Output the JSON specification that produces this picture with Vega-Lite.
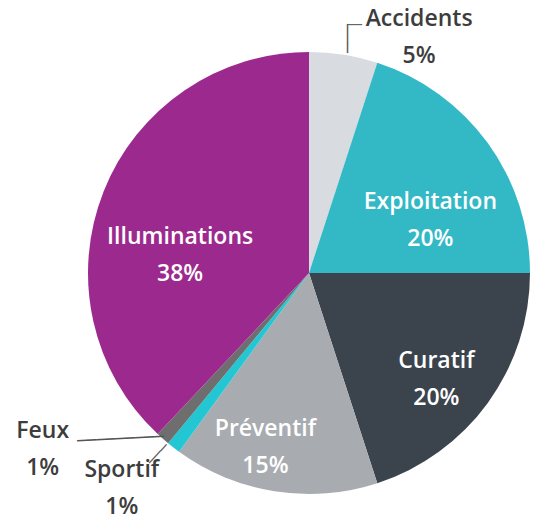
{
  "$schema": "https://vega.github.io/schema/vega-lite/v6.json",
  "width": 442,
  "height": 442,
  "autosize": {"type": "none"},
  "padding": {"left": 88, "top": 52, "right": 9, "bottom": 26},
  "background": "white",
  "config": {"view": {"stroke": null}},
  "data": {
    "values": [
      {"rank": 1, "name": "Accidents", "share": 0.05, "label": "Accidents\n5%"},
      {"rank": 2, "name": "Exploitation", "share": 0.20, "label": "Exploitation\n20%"},
      {"rank": 3, "name": "Curatif", "share": 0.20, "label": "Curatif\n20%"},
      {"rank": 4, "name": "Préventif", "share": 0.15, "label": "Préventif\n15%"},
      {"rank": 5, "name": "Sportif", "share": 0.01, "label": "Sportif\n1%"},
      {"rank": 6, "name": "Feux", "share": 0.01, "label": "Feux\n1%"},
      {"rank": 7, "name": "Illuminations", "share": 0.38, "label": "Illuminations\n38%"}
    ]
  },
  "encoding": {
    "theta": {"field": "share", "type": "quantitative", "stack": true},
    "order": {"field": "rank", "type": "quantitative"}
  },
  "layer": [
    {
      "mark": {"type": "arc", "radius": 221},
      "encoding": {
        "color": {
          "field": "name",
          "type": "nominal",
          "legend": null,
          "scale": {
            "domain": ["Accidents", "Exploitation", "Curatif", "Préventif", "Sportif", "Feux", "Illuminations"],
            "range": ["#d8dbdf", "#33b8c6", "#3b444d", "#a8acb1", "#22c7d3", "#6e6e6e", "#9c2a8e"]
          }
        }
      }
    },
    {
      "mark": {"type": "text", "radius": 150, "dx": 0, "dy": 17, "font": "Open Sans", "fontSize": 23, "fontWeight": 600, "fill": "white", "lineBreak": "\n", "lineHeight": 37, "align": "center", "baseline": "middle"},
      "encoding": {"text": {"condition": {"test": "datum.name === 'Exploitation'", "field": "label", "type": "nominal"}, "value": ""}}
    },
    {
      "mark": {"type": "text", "radius": 150, "dx": 6, "dy": 0, "font": "Open Sans", "fontSize": 23, "fontWeight": 600, "fill": "white", "lineBreak": "\n", "lineHeight": 37, "align": "center", "baseline": "middle"},
      "encoding": {"text": {"condition": {"test": "datum.name === 'Curatif'", "field": "label", "type": "nominal"}, "value": ""}}
    },
    {
      "mark": {"type": "text", "radius": 170, "dx": -17, "dy": -12, "font": "Open Sans", "fontSize": 23, "fontWeight": 600, "fill": "white", "lineBreak": "\n", "lineHeight": 37, "align": "center", "baseline": "middle"},
      "encoding": {"text": {"condition": {"test": "datum.name === 'Préventif'", "field": "label", "type": "nominal"}, "value": ""}}
    },
    {
      "mark": {"type": "text", "radius": 130, "dx": -8, "dy": 12, "font": "Open Sans", "fontSize": 23, "fontWeight": 600, "fill": "white", "lineBreak": "\n", "lineHeight": 37, "align": "center", "baseline": "middle"},
      "encoding": {"text": {"condition": {"test": "datum.name === 'Illuminations'", "field": "label", "type": "nominal"}, "value": ""}}
    },
    {
      "mark": {"type": "text", "radius": 250, "dx": 71, "dy": -7, "font": "Open Sans", "fontSize": 23, "fontWeight": 600, "fill": "#3d3d3d", "lineBreak": "\n", "lineHeight": 37, "align": "center", "baseline": "middle"},
      "encoding": {"text": {"condition": {"test": "datum.name === 'Accidents'", "field": "label", "type": "nominal"}, "value": ""}}
    },
    {
      "mark": {"type": "text", "radius": 250, "dx": -101, "dy": -30, "font": "Open Sans", "fontSize": 23, "fontWeight": 600, "fill": "#3d3d3d", "lineBreak": "\n", "lineHeight": 37, "align": "center", "baseline": "middle"},
      "encoding": {"text": {"condition": {"test": "datum.name === 'Feux'", "field": "label", "type": "nominal"}, "value": ""}}
    },
    {
      "mark": {"type": "text", "radius": 250, "dx": -34, "dy": -1, "font": "Open Sans", "fontSize": 23, "fontWeight": 600, "fill": "#3d3d3d", "lineBreak": "\n", "lineHeight": 37, "align": "center", "baseline": "middle"},
      "encoding": {"text": {"condition": {"test": "datum.name === 'Sportif'", "field": "label", "type": "nominal"}, "value": ""}}
    },
    {
      "mark": {"type": "text", "text": "─────────", "radius": 221, "dx": 1, "dy": -2, "angle": -3, "font": "DejaVu Sans", "fontSize": 16, "fill": "#555555", "align": "right", "baseline": "middle"},
      "encoding": {"opacity": {"condition": {"test": "datum.name === 'Feux'", "value": 1}, "value": 0}}
    },
    {
      "mark": {"type": "text", "text": "───", "radius": 221, "dx": -2.5, "dy": -6.5, "angle": -47, "font": "DejaVu Sans", "fontSize": 14, "fill": "#555555", "align": "right", "baseline": "middle"},
      "encoding": {"opacity": {"condition": {"test": "datum.name === 'Sportif'", "value": 1}, "value": 0}}
    },
    {
      "mark": {"type": "text", "text": "───", "radius": 221, "dx": 1.7, "dy": 4.4, "angle": -90, "font": "DejaVu Sans", "fontSize": 16, "fill": "#555555", "align": "left", "baseline": "middle"},
      "encoding": {"opacity": {"condition": {"test": "datum.name === 'Accidents'", "value": 1}, "value": 0}}
    },
    {
      "mark": {"type": "text", "text": "──", "radius": 221, "dx": 4, "dy": -29.7, "font": "DejaVu Sans", "fontSize": 12, "fill": "#555555", "align": "left", "baseline": "middle"},
      "encoding": {"opacity": {"condition": {"test": "datum.name === 'Accidents'", "value": 1}, "value": 0}}
    }
  ]
}
